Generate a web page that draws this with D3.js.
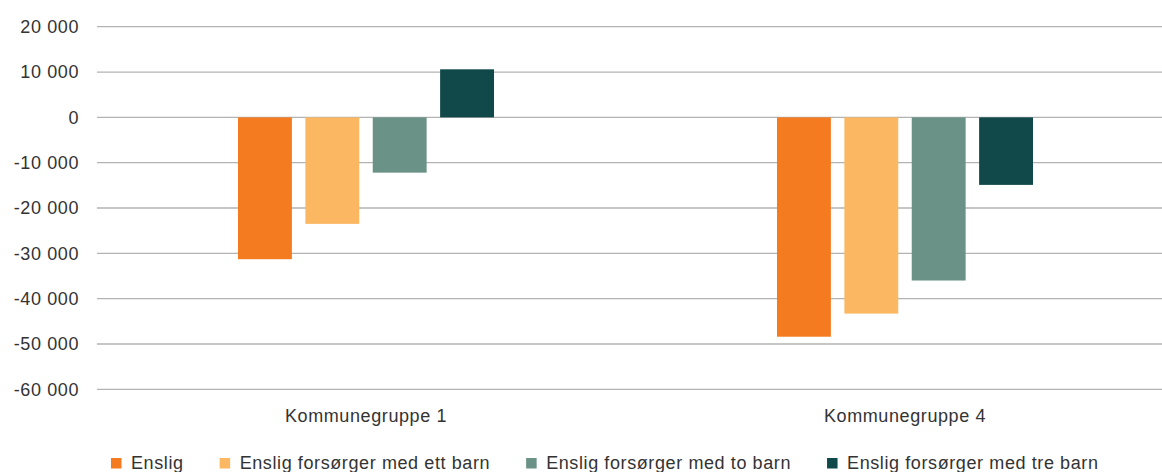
<!DOCTYPE html>
<meta charset="utf-8">
<style>
body { margin: 0; background: #fff; }
svg { display: block; }
text { font-family: "Liberation Sans", Arial, sans-serif; font-size: 18px; fill: #333; letter-spacing: 0.6px; }
.grid line { stroke: #b3b3b3; stroke-width: 1.3px; }
</style>
<svg width="1162" height="472"></svg>
<script src="https://cdn.jsdelivr.net/npm/d3@7"></script>
<script>

var groups = ["Kommunegruppe 1", "Kommunegruppe 4"];
var series = ["Enslig", "Enslig forsørger med ett barn", "Enslig forsørger med to barn", "Enslig forsørger med tre barn"];
var colors = ["#f47b20", "#fbb762", "#6b9286", "#11494a"];
var gruppe1 = [-31300, -23500, -12200, 10600];
var gruppe4 = [-48400, -43300, -36000, -14900];
var yTicks = [20000, 10000, 0, -10000, -20000, -30000, -40000, -50000, -60000];

var svg = d3.select("svg"),
    margin = {left: 97, top: 26.7, bottom: 389.3};

var x0 = d3.scaleBand().domain(groups).range([96.5, 1174.5]);
var x1 = d3.scaleBand().domain(series)
    .range([x0.bandwidth() * 0.2625, x0.bandwidth() * 0.7375])
    .paddingInner(0.2);
var y = d3.scaleLinear().domain([20000, -60000]).range([margin.top, margin.bottom]);

var fmt = function(v) { return d3.format(",")(v).replace(/,/g, " ").replace("−", "-"); };

// grid
svg.append("g").attr("class", "grid")
  .selectAll("line").data(yTicks).enter().append("line")
    .attr("x1", margin.left).attr("x2", 1162)
    .attr("y1", function(d) { return y(d); })
    .attr("y2", function(d) { return y(d); });

// y labels
svg.append("g").selectAll("text").data(yTicks).enter().append("text")
    .attr("x", 79)
    .attr("y", function(d) { return y(d); })
    .attr("dy", "0.35em")
    .attr("text-anchor", "end")
    .text(fmt);

var data = [gruppe1, gruppe4];

var g = svg.selectAll(".grp").data(groups).enter().append("g")
    .attr("class", "grp")
    .attr("transform", function(d) { return "translate(" + x0(d) + ",0)"; });

g.selectAll("rect")
  .data(function(d, i) { return data[i].map(function(v, j) { return {s: series[j], v: v, c: colors[j]}; }); })
  .enter().append("rect")
    .attr("x", function(d) { return x1(d.s); })
    .attr("width", x1.bandwidth())
    .attr("y", function(d) { return y(Math.max(0, d.v)); })
    .attr("height", function(d) { return Math.abs(y(d.v) - y(0)); })
    .attr("fill", function(d) { return d.c; });

// category labels
svg.append("g").selectAll("text").data(groups).enter().append("text")
    .attr("x", function(d) { return x0(d) + x0.bandwidth() / 2; })
    .attr("y", 421.5)
    .attr("text-anchor", "middle")
    .text(function(d) { return d; });

// legend
var legend = svg.append("g");
var lx = 111;
series.forEach(function(s, i) {
  legend.append("rect")
      .attr("x", lx).attr("y", 458)
      .attr("width", 10.5).attr("height", 10.5)
      .attr("fill", colors[i]);
  var t = legend.append("text")
      .attr("x", lx + 20).attr("y", 468.5)
      .text(s);
  lx += 20 + t.node().getComputedTextLength() + 36;
});

</script>
